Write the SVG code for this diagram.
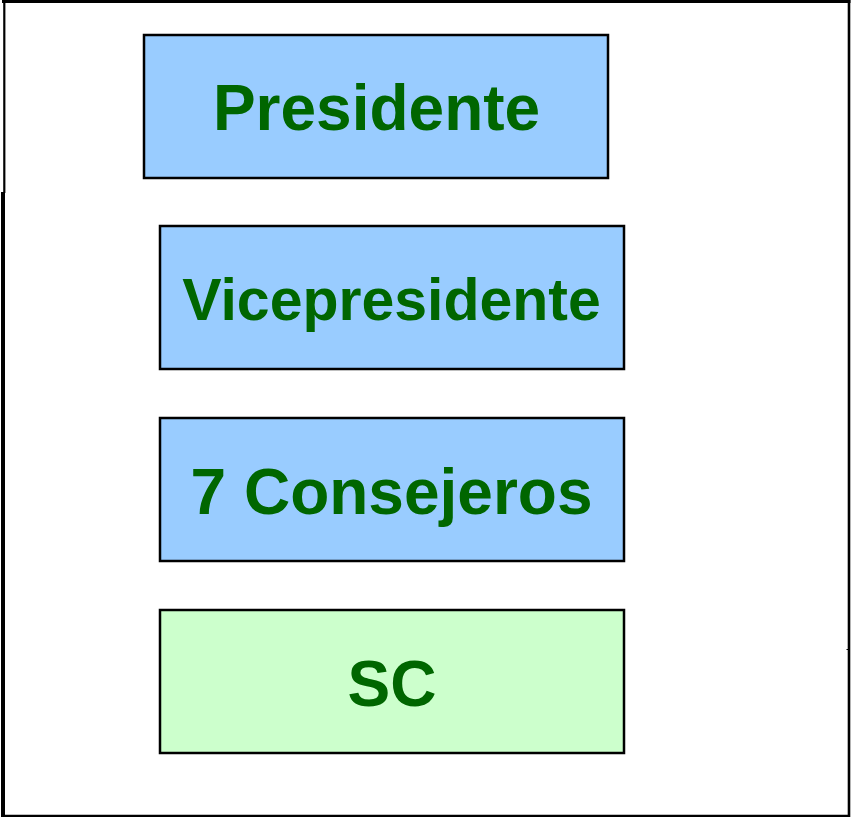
<svg xmlns="http://www.w3.org/2000/svg" width="851" height="817" viewBox="0 0 851 817">
<style>
.box{stroke:#000;stroke-width:2.5}
.blue{fill:#99CCFF}
.green{fill:#CCFFCC}
.lbl{font-family:"Liberation Sans",Arial,sans-serif;font-weight:bold;fill:#006600;text-anchor:middle}
.frame{stroke:#000;fill:none}
</style>
<rect width="851" height="817" fill="#fff"/>
<g id="frame">
<line class="frame" x1="2" y1="1.5" x2="850.5" y2="1.5" stroke-width="3"/>
<line class="frame" x1="849" y1="0" x2="849" y2="817" stroke-width="2.6"/>
<line class="frame" x1="1" y1="815.8" x2="850" y2="815.8" stroke-width="2.2"/>
<line class="frame" x1="4.3" y1="0" x2="4.3" y2="193" stroke-width="2.2"/>
<line class="frame" x1="3" y1="192" x2="3" y2="817" stroke-width="4"/>
<line class="frame" x1="846.5" y1="649.5" x2="850" y2="649.5" stroke-width="1"/>
</g>
<g id="presidente">
<rect class="box blue" x="144" y="35" width="464" height="143"/>
<text class="lbl" x="376.5" y="130" font-size="64">Presidente</text>
</g>
<g id="vicepresidente">
<rect class="box blue" x="160" y="226" width="464" height="143"/>
<text class="lbl" x="391.5" y="320" font-size="59">Vicepresidente</text>
</g>
<g id="consejeros">
<rect class="box blue" x="160" y="418" width="464" height="143"/>
<text class="lbl" x="391.5" y="514" font-size="64">7 Consejeros</text>
</g>
<g id="sc">
<rect class="box green" x="160" y="610" width="464" height="143"/>
<text class="lbl" x="392" y="706" font-size="64">SC</text>
</g>
<g id="connectors"></g>
</svg>
